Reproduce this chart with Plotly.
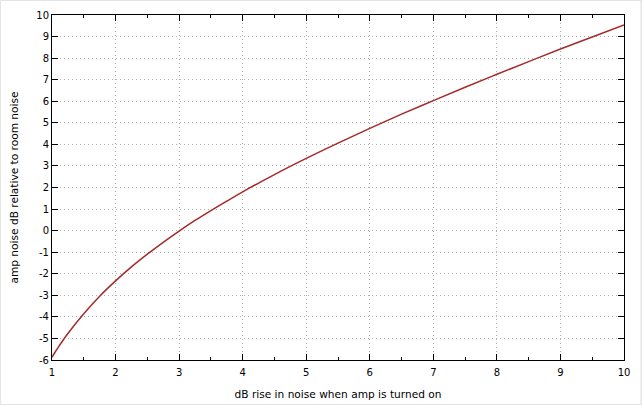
import plotly.graph_objects as go

# values
db_rise = [1.0, 1.05, 1.1, 1.25, 1.5, 1.75, 2.0, 2.25, 2.5, 2.75, 3.0, 3.25,
           3.5, 3.75, 4.0, 4.5, 5.0, 5.5, 6.0, 6.5, 7.0, 7.5, 8.0, 8.5, 9.0,
           9.5, 10.0]
amp_noise = [-5.87, -5.63, -5.40, -4.77, -3.85, -3.04, -2.33, -1.68, -1.09,
             -0.54, -0.02, 0.47, 0.93, 1.37, 1.80, 2.60, 3.35, 4.06, 4.74,
             5.40, 6.03, 6.65, 7.25, 7.84, 8.42, 8.98, 9.54]

x_ticks = list(range(1, 11))
y_ticks = list(range(-6, 11))
y_labels = [str(v) for v in y_ticks]  # plain hyphen minus, like the original

W, H = 642, 405
L, R, T, B = 52, 17.5, 15, 45
pw, ph = W - L - R, H - T - B

fig = go.Figure()
fig.add_trace(go.Scatter(
    x=db_rise, y=amp_noise, mode='lines',
    line=dict(color='#a52a2a', width=1.5, shape='spline'),
    hoverinfo='skip', showlegend=False,
))

font = dict(family='DejaVu Sans', size=10, color='black')
title_font = dict(family='DejaVu Sans', size=10.6, color='black')
axis = dict(
    showline=True, linecolor='black', linewidth=1, mirror='ticks',
    ticks='inside', ticklen=6, tickcolor='black', tickwidth=1,
    showgrid=True, gridcolor='#b0b0b0', griddash='1px,3px', gridwidth=1,
    zeroline=False, tickfont=font, automargin=False,
)

fig.update_layout(
    width=W, height=H,
    margin=dict(l=L, r=R, t=T, b=B),
    paper_bgcolor='white', plot_bgcolor='white',
    xaxis=dict(axis, range=[1, 10], tickvals=x_ticks, ticklabelstandoff=3,
               minor=dict(ticks='inside', ticklen=3, dtick=0.5,
                          tickcolor='black', showgrid=False),
               title=dict(text='dB rise in noise when amp is turned on',
                          font=title_font, standoff=13)),
    yaxis=dict(axis, range=[-6, 10], tickvals=y_ticks, ticktext=y_labels,
               title=dict(text='amp noise dB relative to room noise',
                          font=title_font, standoff=15)),
    shapes=[dict(type='rect', xref='paper', yref='paper',
                 x0=-L / pw, x1=1 + R / pw, y0=-B / ph, y1=1 + T / ph,
                 line=dict(color='#e4e4e4', width=2), layer='below')],
)

fig.write_html('out.html', config={'displayModeBar': False},
               post_script="document.body.style.margin='0';")
